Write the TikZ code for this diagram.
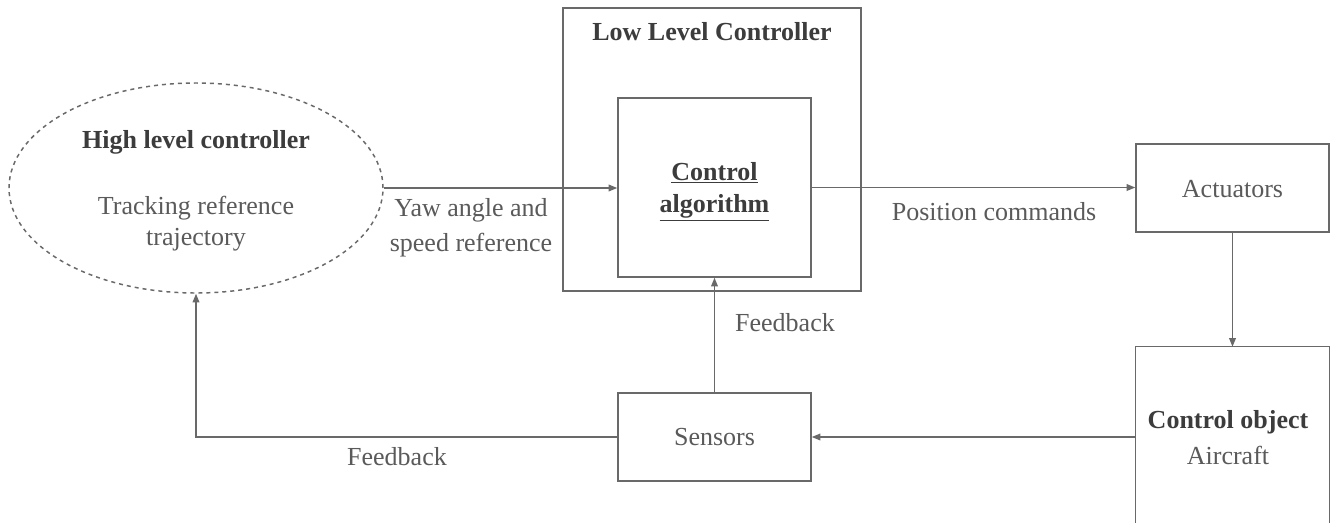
\documentclass[tikz,border=0pt]{standalone}
\usepackage{fontspec}
\setmainfont{Liberation Serif}
\usetikzlibrary{arrows.meta,shapes.geometric}
\definecolor{linec}{RGB}{105,105,105}
\definecolor{txtc}{RGB}{90,90,90}
\definecolor{boldc}{RGB}{60,60,60}
\tikzset{
  lbl/.style={text=txtc, font=\fontsize{19.5}{23}\selectfont, inner sep=0pt},
  blbl/.style={text=boldc, font=\fontsize{19.5}{23}\selectfont\bfseries, inner sep=0pt},
  box/.style={draw=linec, line width=1.1pt, rectangle, inner sep=0pt},
  conn/.style={draw=linec, line width=1.1pt, -{Triangle[length=6.5pt,width=5pt]}},
}
\begin{document}
\begin{tikzpicture}[x=0.75pt,y=-0.75pt]
\useasboundingbox[fill=white] (0,0) rectangle (1332,522);
% ellipse
\node[ellipse, draw=linec, dashed, line width=1.1pt, minimum width=280.5pt, minimum height=157.5pt, inner sep=0pt] (hl) at (196,188) {};
\node[blbl] (hlt) at (196,142) {High level controller};
\node[lbl] (hl1) at (196,208) {Tracking reference};
\node[lbl] (hl2) at (196,240) {trajectory};
% low level controller
\node[box, minimum width=223.5pt, minimum height=212.25pt] (llc) at (712,149.5) {};
\node[blbl] (llct) at (712,32) {Low Level Controller};
\node[box, minimum width=144.75pt, minimum height=134.25pt] (ca) at (714.5,187.5) {};
\node[blbl] (ca1) at (714.5,173) {\underline{Control}};
\node[blbl] (ca2) at (714.5,208) {\underline{algorithm}};
% actuators
\node[box, minimum width=144.75pt, minimum height=66pt] (act) at (1232.5,188) {};
\node[lbl] (actt) at (1232.5,189) {Actuators};
% control object
\node[minimum width=144.75pt, minimum height=154.5pt, inner sep=0pt] (obj) at (1232.5,450) {};
\draw[draw=linec, line width=1.1pt] (obj.south west) -- (obj.north west) -- (obj.north east) -- (obj.south east);
\node[blbl] (objt) at (1228,422) {Control object};
\node[lbl] (obja) at (1228,455) {Aircraft};
% sensors
\node[box, minimum width=144.75pt, minimum height=66pt] (sen) at (714.5,437) {};
\node[lbl] (sent) at (714.5,437) {Sensors};
% labels
\node[lbl] (yaw1) at (471,210) {Yaw angle and};
\node[lbl] (yaw2) at (471,245) {speed reference};
\node[lbl] (pos) at (994,212) {Position commands};
\node[lbl] (fb1) at (785,323) {Feedback};
\node[lbl] (fb2) at (397,457) {Feedback};
% connectors
\draw[conn] (hl.east) -- (hl.east -| ca.west);
\draw[conn] (ca.east) -- (ca.east -| act.west);
\draw[conn] (act.south) -- (act.south |- obj.north);
\draw[conn] (sen.east -| obj.west) -- (sen.east);
\draw[conn] (sen.north) -- (ca.south);
\draw[conn] (sen.west) -- (sen.west -| hl.south) -- (hl.south);
\end{tikzpicture}
\end{document}
